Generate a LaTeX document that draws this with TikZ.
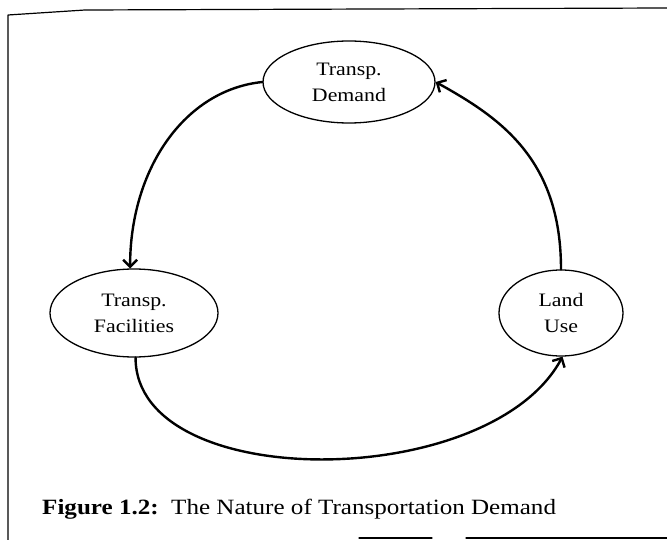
\documentclass[tikz,border=0pt]{standalone}
\usepackage{fontspec}
\setmainfont{Liberation Serif}[FakeStretch=1.15]
\usetikzlibrary{shapes.geometric,arrows.meta}
\begin{document}
\begin{tikzpicture}[x=1pt,y=-1pt, line join=round, line cap=round,
	ell/.style={ellipse,draw,line width=1.3pt,inner sep=0pt,align=center,font=\fontsize{19}{26}\selectfont},
	link/.style={line width=2.4pt,-{Straight Barb[length=7pt,width=14pt]}}]
	\useasboundingbox (0,0) rectangle (667,540);
	% frame
	\draw[line width=1.2pt] (8,540)--(8,15)--(85,10)--(667,8);
	\draw[line width=1.2pt] (359,538)--(432,538) (466,538)--(667,538);
	% nodes
	\node[ell,minimum width=172,minimum height=82] (dem) at (349,82) {Transp.\\Demand};
	\node[ell,minimum width=168,minimum height=88] (fac) at (134,313) {Transp.\\Facilities};
	\node[ell,minimum width=124,minimum height=86] (lu) at (561,313) {Land\\Use};
	% links
	\draw[link] (dem.west) .. controls +(-78,8) and +(0,-99) .. (fac.95);
	\draw[link] (fac.272) .. controls +(0,136) and +(-73,136) .. (lu.272);
	\draw[link] (lu.north) .. controls +(0,-110) and +(65,36) .. (dem.east);
	% caption
	\node[anchor=base west,inner sep=0pt,font=\fontsize{21.8}{26}\selectfont] (cap) at (42,514) {\textbf{Figure 1.2:}\ \ The Nature of Transportation Demand};
\end{tikzpicture}
\end{document}
